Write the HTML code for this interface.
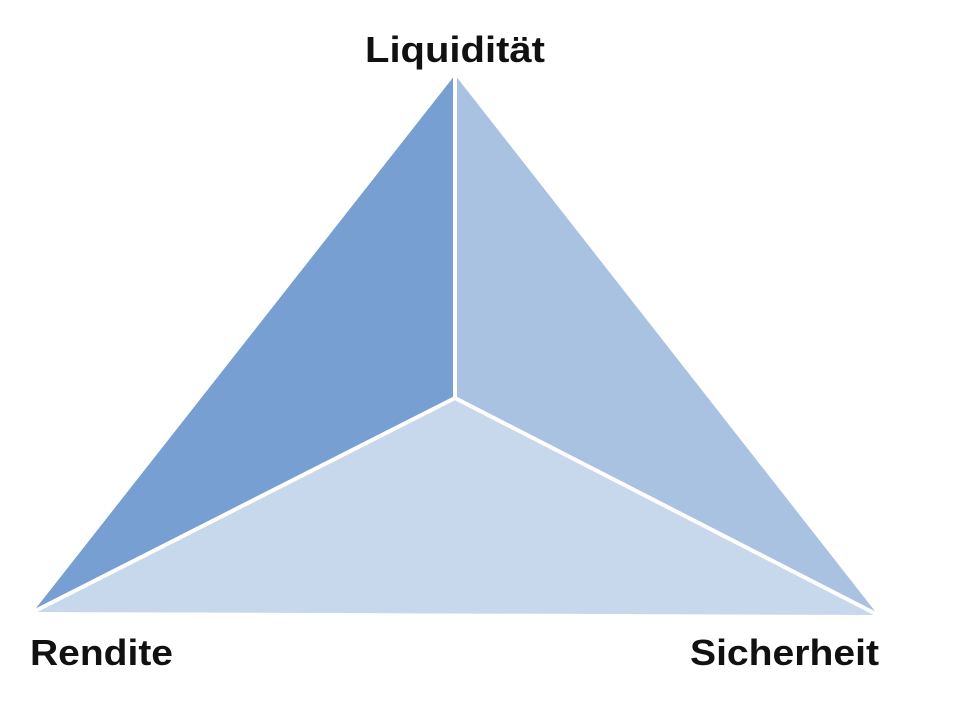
<!DOCTYPE html>
<html><head><style>
html,body{margin:0;padding:0;background:#fff;width:960px;height:711px;overflow:hidden}
svg{display:block}
text{font-family:"Liberation Sans",sans-serif;font-weight:bold;fill:#111}
</style></head><body>
<svg width="960" height="711" viewBox="0 0 960 711">
<polygon points="455,75 33,612 455,398" fill="#789fd1"/>
<polygon points="455,75 878,615 455,398" fill="#a9c2e2"/>
<polygon points="33,612 878,615 455,398" fill="#c7d8ed"/>
<g stroke="#fff" stroke-width="4" fill="none">
<line x1="455" y1="75" x2="455" y2="398"/>
<line x1="455" y1="398" x2="33" y2="612"/>
<line x1="455" y1="398" x2="878" y2="615"/>
</g>
<text x="455" y="62" font-size="36" text-anchor="middle" textLength="180" lengthAdjust="spacingAndGlyphs">Liquidität</text>
<text x="30" y="665" font-size="36" textLength="143" lengthAdjust="spacingAndGlyphs">Rendite</text>
<text x="690" y="665" font-size="36" textLength="189" lengthAdjust="spacingAndGlyphs">Sicherheit</text>
</svg>
</body></html>
